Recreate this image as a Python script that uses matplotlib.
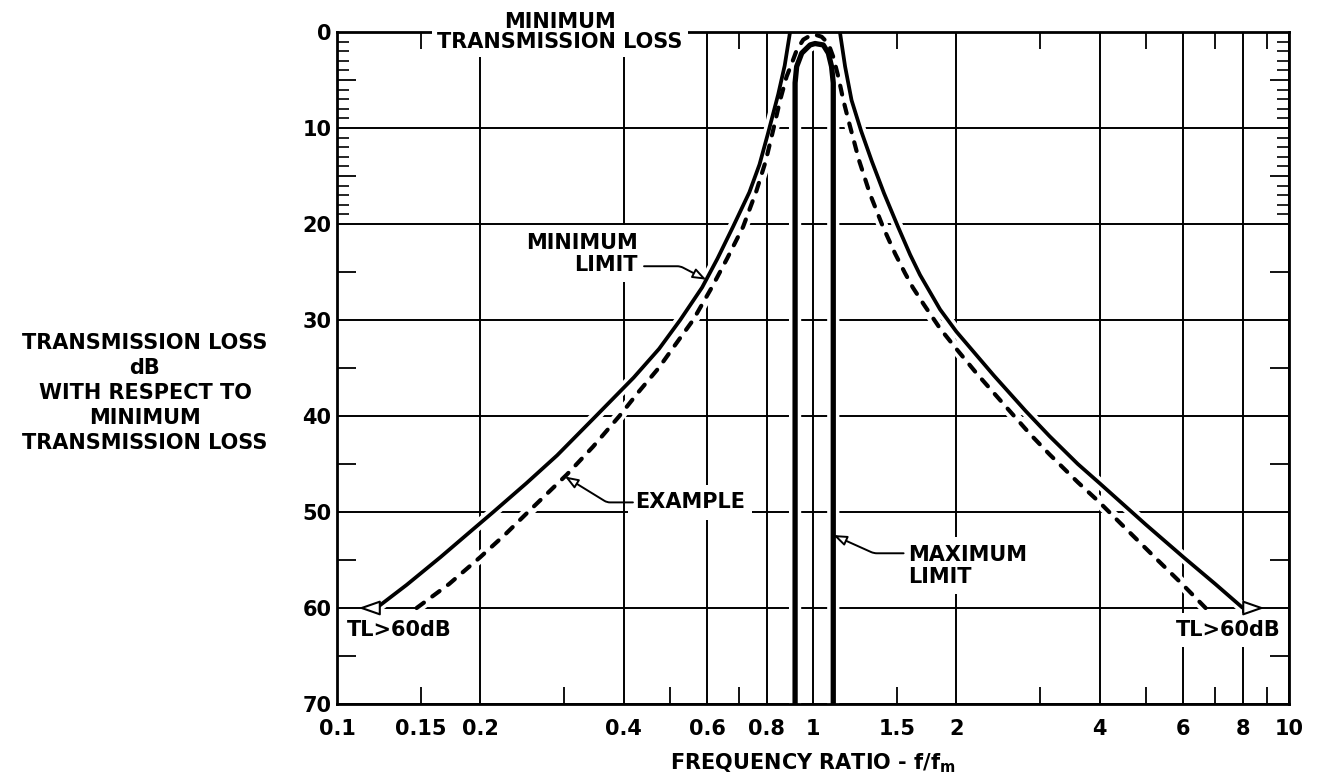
import numpy as np
import matplotlib
matplotlib.use("Agg")
import matplotlib.pyplot as plt
from matplotlib.ticker import FixedLocator, FixedFormatter

# Frequency ratio f/fm and transmission loss (dB re minimum transmission loss)
min_left_f = [0.121, 0.140, 0.165, 0.190, 0.213, 0.250, 0.290, 0.350, 0.420, 0.475,
              0.526, 0.585, 0.630, 0.679, 0.735, 0.772, 0.804, 0.845, 0.872, 0.895]
min_left_tl = [60.0, 57.6, 54.7, 52.1, 50.0, 47.0, 44.1, 40.0, 36.0, 33.0,
               30.0, 26.6, 23.6, 20.3, 16.7, 13.8, 10.6, 6.5, 3.5, 0.0]
min_right_f = [1.139, 1.168, 1.205, 1.262, 1.330, 1.410, 1.509, 1.600, 1.678, 1.849,
               2.000, 2.400, 2.800, 3.140, 3.600, 4.000, 5.000, 6.000, 7.000, 8.000]
min_right_tl = [0.0, 3.6, 7.1, 10.3, 13.5, 16.8, 20.3, 23.2, 25.3, 28.9,
                31.2, 35.8, 39.5, 42.1, 45.0, 47.0, 51.3, 54.7, 57.5, 60.0]

example_f = [0.147, 0.172, 0.200, 0.226, 0.252, 0.304, 0.345, 0.392, 0.430, 0.474,
             0.515, 0.560, 0.613, 0.660, 0.713, 0.760, 0.795, 0.824, 0.853, 0.880,
             0.902, 0.924, 0.954, 1.000, 1.043, 1.077, 1.103, 1.130, 1.158, 1.187,
             1.250, 1.318, 1.403, 1.488, 1.560, 1.620, 1.710, 1.850, 2.000, 2.210,
             2.560, 2.860, 3.140, 3.600, 4.000, 4.430, 5.220, 5.990, 6.680]
example_tl = [60.0, 57.5, 54.7, 52.3, 50.0, 46.1, 43.2, 40.0, 37.5, 35.0,
              32.5, 30.0, 26.6, 23.6, 20.3, 16.6, 13.5, 10.3, 7.1, 4.65,
              3.3, 1.9, 0.8, 0.2, 0.5, 1.2, 2.6, 4.65, 7.1, 9.2,
              13.4, 16.9, 20.3, 23.1, 25.1, 26.6, 28.4, 30.9, 33.0, 35.6,
              39.2, 41.9, 44.0, 46.9, 49.0, 51.2, 54.7, 57.6, 60.0]

max_f = [0.917, 0.917, 0.924, 0.947, 0.986, 1.010, 1.051, 1.077, 1.094, 1.103, 1.103]
max_tl = [70.0, 5.3, 3.6, 2.2, 1.35, 1.2, 1.35, 2.2, 3.6, 5.3, 70.0]

x_grid = [0.1, 0.2, 0.4, 0.6, 0.8, 1, 2, 4, 6, 8, 10]
x_grid_labels = ["0.1", "0.2", "0.4", "0.6", "0.8", "1", "2", "4", "6", "8", "10"]
x_short = [0.15, 0.3, 0.5, 0.7, 1.5, 3, 5, 7, 9]
x_short_labels = ["0.15", "", "", "", "1.5", "", "", "", ""]
y_grid = [0, 10, 20, 30, 40, 50, 60, 70]
y_mid = [5, 15, 25, 35, 45, 55, 65]
y_fine = [1, 2, 3, 4, 6, 7, 8, 9, 11, 12, 13, 14, 16, 17, 18, 19]

plt.rcParams["font.family"] = ["DejaVu Sans"]
plt.rcParams["font.weight"] = "bold"
plt.rcParams["mathtext.default"] = "regular"
plt.rcParams["lines.scale_dashes"] = False

FS = 15
W, H = 1319, 782
fig = plt.figure(figsize=(W / 100, H / 100), dpi=100)
ax = fig.add_axes([337 / W, 78 / H, 952 / W, 672 / H])
ax.set_xscale("log")
ax.set_xlim(0.1, 10)
ax.set_ylim(70, 0)

for s in ax.spines.values():
    s.set_linewidth(2.0)
    s.set_zorder(6)

# ticks and grid
ax.xaxis.set_major_locator(FixedLocator(x_grid))
ax.xaxis.set_major_formatter(FixedFormatter(x_grid_labels))
ax.xaxis.set_minor_locator(FixedLocator(x_short))
ax.xaxis.set_minor_formatter(FixedFormatter(x_short_labels))
ax.yaxis.set_major_locator(FixedLocator(y_grid))
ax.yaxis.set_minor_locator(FixedLocator(y_mid))
ax.tick_params(axis="x", which="major", length=0, pad=11, labelsize=FS, direction="in")
ax.tick_params(axis="x", which="minor", length=12, width=1.3, pad=11, labelsize=FS,
               direction="in", top=True, bottom=True)
ax.tick_params(axis="y", which="major", length=0, pad=4, labelsize=FS, direction="in")
ax.tick_params(axis="y", which="minor", length=14, width=1.3, direction="in",
               left=True, right=True)
ax.grid(which="major", color="black", lw=1.4, zorder=1.5)

for side in ("left", "right"):
    sec = ax.secondary_yaxis(side)
    sec.set_yticks(y_fine)
    sec.tick_params(direction="in", length=8.5, width=1.2, labelleft=False, labelright=False)
    for s in sec.spines.values():
        s.set_visible(False)

# white casing under the curves so grid lines break around them
curves = [(min_left_f, min_left_tl, 2.7), (min_right_f, min_right_tl, 2.7),
          (example_f, example_tl, 3.0), (max_f, max_tl, 3.8)]
for fx, ty, lw in curves:
    ax.plot(fx, ty, color="white", lw=lw + 5, solid_capstyle="butt",
            solid_joinstyle="round", zorder=3)

ax.plot(min_left_f, min_left_tl, color="black", lw=2.7, solid_capstyle="butt",
        solid_joinstyle="round", zorder=4)
ax.plot(min_right_f, min_right_tl, color="black", lw=2.7, solid_capstyle="butt",
        solid_joinstyle="round", zorder=4)
ax.plot(max_f, max_tl, color="black", lw=3.8, solid_capstyle="butt",
        solid_joinstyle="round", zorder=4)
ax.plot(example_f, example_tl, color="black", lw=3.0, dashes=(6.5, 7.5),
        dash_capstyle="round", dash_joinstyle="round", zorder=4)

# open arrowheads at the ends of the minimum limit
head = dict(arrowstyle="-|>,head_length=1.0,head_width=0.35", mutation_scale=13,
            fc="white", ec="black", lw=1.5, shrinkA=0, shrinkB=0)
ax.annotate("", xy=(min_left_f[0] / 1.09, min_left_tl[0]),
            xytext=(min_left_f[0], min_left_tl[0]), arrowprops=head, zorder=6)
ax.annotate("", xy=(min_right_f[-1] * 1.11, min_right_tl[-1]),
            xytext=(min_right_f[-1], min_right_tl[-1]), arrowprops=head, zorder=6)


def f_at(tl, fs, tls):
    """Frequency ratio at which a monotonic branch reaches a given loss."""
    tls = np.asarray(tls, float)
    order = np.argsort(tls)
    return 10 ** np.interp(tl, tls[order], np.log10(np.asarray(fs, float))[order])


def leader(tip, start, angle_b):
    ax.annotate("", xy=tip, xytext=start, zorder=6,
                arrowprops=dict(arrowstyle="-|>,head_length=0.8,head_width=0.3",
                                mutation_scale=10, fc="white", ec="black", lw=1.4,
                                shrinkA=0, shrinkB=0,
                                connectionstyle=f"angle,angleA=0,angleB={angle_b},rad=3"))


box = dict(facecolor="white", edgecolor="none", boxstyle="square,pad=0.35")
peak = int(np.argmin(example_tl))

ax.text(0.4286, 23.1, "MINIMUM\nLIMIT", ha="right", va="center", ma="right",
        fontsize=FS, linespacing=1.15, bbox=box, zorder=5)
leader((f_at(25.8, min_left_f, min_left_tl), 25.8), (0.4416, 24.4), 152.6)

ax.text(0.4227, 49.0, "EXAMPLE", ha="left", va="center", fontsize=FS, bbox=box, zorder=5)
leader((f_at(46.3, example_f[:peak + 1], example_tl[:peak + 1]), 46.3), (0.4185, 49.0), -31.6)

ax.text(1.584, 55.6, "MAXIMUM\nLIMIT", ha="left", va="center", ma="left",
        fontsize=FS, linespacing=1.15, bbox=box, zorder=5)
leader((max_f[-1], 52.4), (1.55, 54.3), -24.2)

ax.text(0.1049, 62.3, "TL>60dB", ha="left", va="center", fontsize=FS, bbox=box, zorder=5)
ax.text(9.62, 62.3, "TL>60dB", ha="right", va="center", fontsize=FS, bbox=box, zorder=5)

ax.text(0.294, 0.0, "MINIMUM\nTRANSMISSION LOSS", ha="center", va="center",
        fontsize=FS, linespacing=1.0, zorder=7,
        bbox=dict(facecolor="white", edgecolor="none", boxstyle="square,pad=0.25"))

fig.text(145 / W, 1 - 393 / H,
         "TRANSMISSION LOSS\ndB\nWITH RESPECT TO\nMINIMUM\nTRANSMISSION LOSS",
         ha="center", va="center", fontsize=FS, linespacing=1.3)
fig.text(813 / W, 1 - 763 / H, "FREQUENCY RATIO - f/f$_{m}$",
         ha="center", va="center", fontsize=FS)

fig.savefig("out.png", dpi=100, facecolor="white")
